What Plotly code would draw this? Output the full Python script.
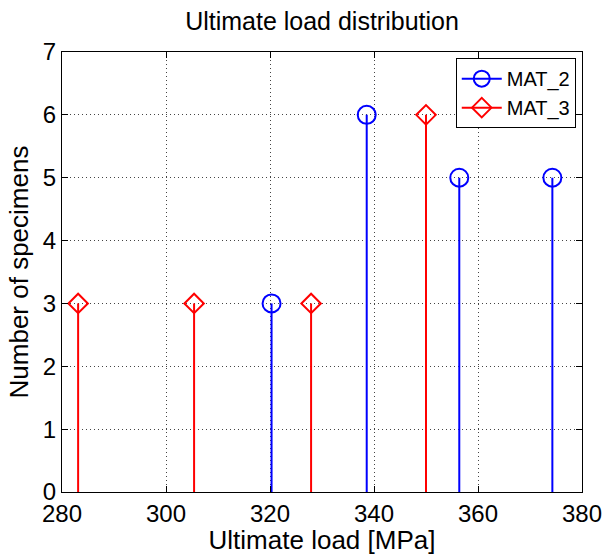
import plotly.graph_objects as go

# Data
mat2_load = [320.3, 338.6, 356.4, 374.3]
mat2_count = [3, 6, 5, 5]
mat3_load = [283.1, 305.4, 327.9, 350.0]
mat3_count = [3, 3, 3, 6]
x_ticks = [280, 300, 320, 340, 360, 380]
y_ticks = [0, 1, 2, 3, 4, 5, 6, 7]

FONT = "Liberation Sans, Arial, Helvetica, sans-serif"


def stems(xs, ys):
    sx, sy = [], []
    for x, y in zip(xs, ys):
        sx += [x, x, None]
        sy += [0, y, None]
    return sx, sy


fig = go.Figure()

series = [
    ("MAT_2", mat2_load, mat2_count, "#0000ff", "circle-open", 18),
    ("MAT_3", mat3_load, mat3_count, "#ff0000", "diamond-open", 15),
]

for name, xs, ys, color, sym, size in series:
    sx, sy = stems(xs, ys)
    fig.add_trace(go.Scatter(x=sx, y=sy, mode="lines", line=dict(color=color, width=2),
                             showlegend=False, hoverinfo="skip"))
    fig.add_trace(go.Scatter(x=xs, y=ys, mode="markers",
                             marker=dict(symbol=sym, size=size, color=color,
                                         line=dict(color=color, width=2)),
                             showlegend=False, name=name))
    fig.add_trace(go.Scatter(x=[None], y=[None], mode="lines+markers", name=name,
                             line=dict(color=color, width=2),
                             marker=dict(symbol=sym, size=size, color=color,
                                         line=dict(color=color, width=2))))

axis_common = dict(
    showline=True, linecolor="black", linewidth=1, mirror="ticks",
    ticks="inside", ticklen=6, tickcolor="black", tickwidth=1,
    showgrid=True, gridcolor="#444444", gridwidth=1, griddash="1px,3px",
    zeroline=False, tickfont=dict(family=FONT, size=24, color="black"),
)

fig.update_xaxes(range=[280, 380], tickvals=x_ticks, ticktext=[str(v) for v in x_ticks],
                 title=dict(text="Ultimate load [MPa]", font=dict(family=FONT, size=26, color="black"),
                            standoff=3),
                 **axis_common)
fig.update_yaxes(range=[0, 7], tickvals=y_ticks, ticktext=[str(v) for v in y_ticks],
                 title=dict(text="Number of specimens", font=dict(family=FONT, size=26, color="black"),
                            standoff=6),
                 **axis_common)

fig.update_layout(
    width=607, height=555,
    margin=dict(l=62, r=25, t=52, b=63, autoexpand=False),
    paper_bgcolor="white", plot_bgcolor="white",
    title=dict(text="Ultimate load distribution", x=0.5, xref="paper", xanchor="center",
               y=1 - 21 / 555, yref="container", yanchor="middle",
               font=dict(family=FONT, size=25, color="black")),
    legend=dict(x=0.988, y=0.986, xanchor="right", yanchor="top",
                bgcolor="white", bordercolor="black", borderwidth=1,
                font=dict(family=FONT, size=20, color="black"),
                itemwidth=40, tracegroupgap=0),
    showlegend=True,
)

fig.write_html("out.html")
